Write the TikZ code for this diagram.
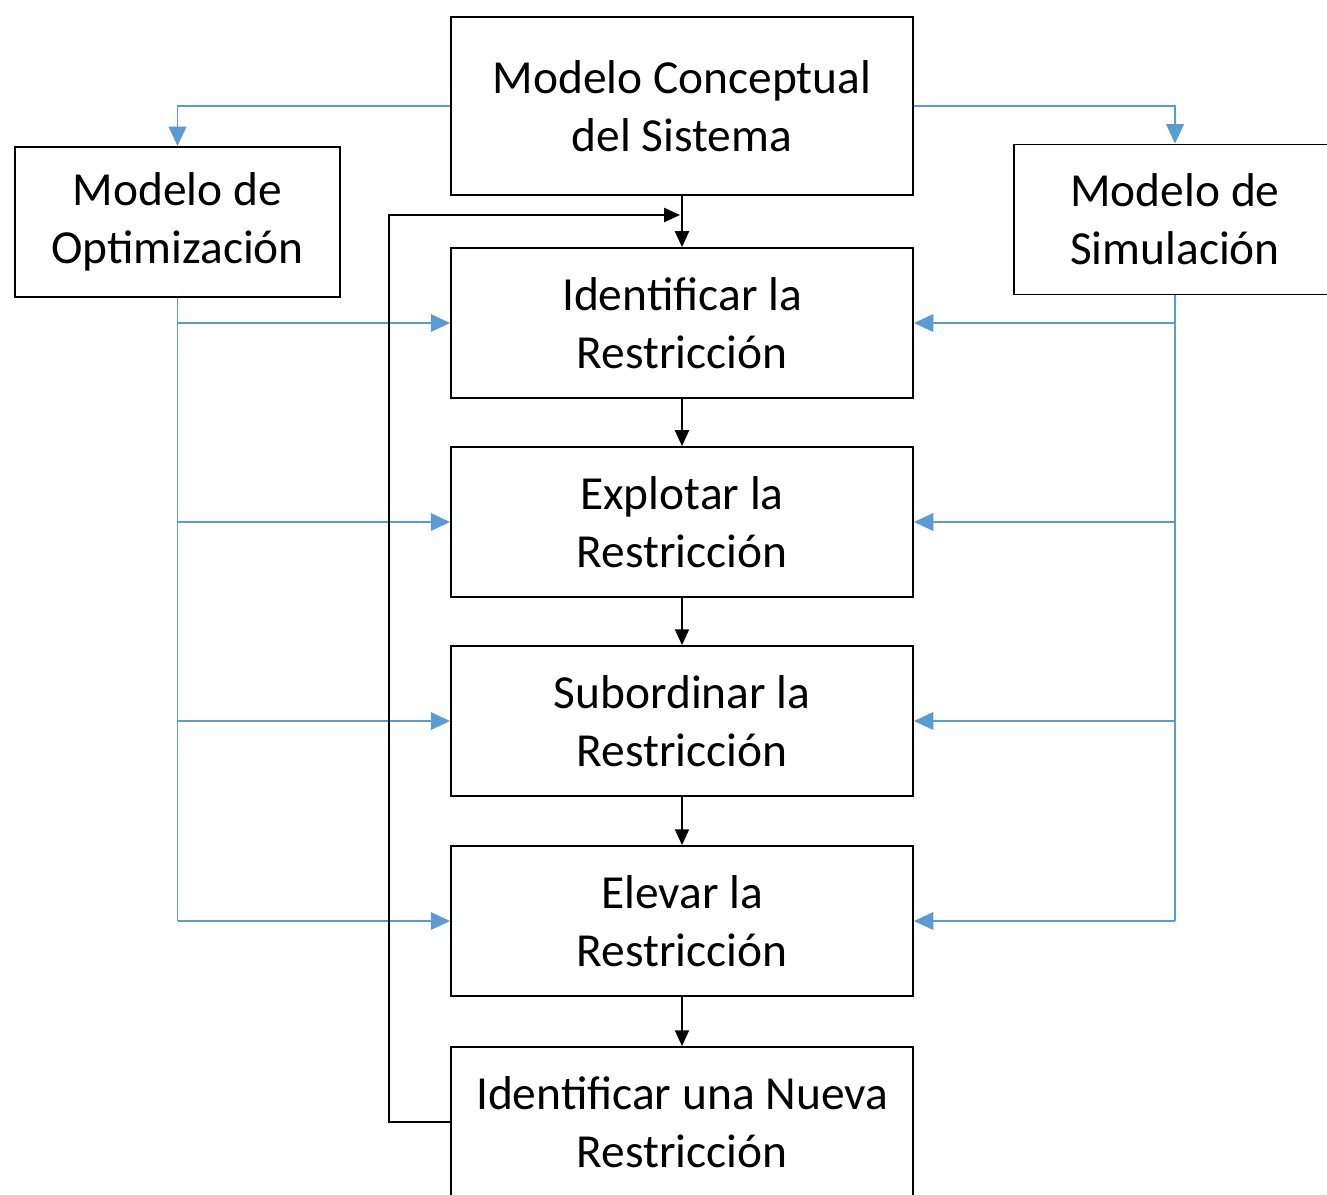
\documentclass[tikz,border=0pt]{standalone}
\usepackage{fontspec}
\setmainfont{Carlito}
\usetikzlibrary{arrows.meta}
\definecolor{modblue}{RGB}{91,155,213}

\begin{document}
\begin{tikzpicture}[x=0.02cm,y=-0.02cm,
    box/.style={draw, line width=1.1pt, minimum width=9.24cm, minimum height=3cm,
        align=center, inner sep=0pt, font=\fontsize{27}{33}\selectfont},
    flow/.style={-{Triangle[length=9pt,width=8pt]}, line width=1pt},
    feed/.style={-{Triangle[length=11pt,width=10pt]}, line width=1pt, draw=modblue}]
    \useasboundingbox (0,0) rectangle (1327,1194);

    % main chain
    \node[box, minimum height=3.56cm] (concept) at (682,106) {Modelo Conceptual\\del Sistema};
    \node[box] (ident) at (682,323) {Identificar la\\Restricción};
    \node[box] (explot) at (682,522) {Explotar la\\Restricción};
    \node[box] (subord) at (682,721) {Subordinar la\\Restricción};
    \node[box] (elevar) at (682,921) {Elevar la\\Restricción};
    \node[box] (nueva) at (682,1122) {Identificar una Nueva\\Restricción};

    % side models
    \node[box, minimum width=6.5cm] (optim) at (177.5,222) {Modelo de\\Optimización};
    \node[box, minimum width=6.44cm] (simul) at (1175,219.5) {Modelo de\\Simulación};

    \draw[feed] (concept.west) -| (optim.north);
    \draw[feed] (concept.east) -| (simul.north);

    \draw[feed, -] (optim.south) -- (optim.south |- elevar.west);
    \draw[feed, -] (simul.south) -- (simul.south |- elevar.east);
    \foreach \n in {ident, explot, subord, elevar} {
        \draw[feed] (optim.south |- \n.west) -- (\n.west);
        \draw[feed] (simul.south |- \n.east) -- (\n.east);
    }

    \foreach \a/\b in {concept/ident, ident/explot, explot/subord, subord/elevar, elevar/nueva}
        \draw[flow] (\a.south) -- (\b.north);

    % loop back
    \coordinate (loopin) at (680,215);
    \draw[flow] (nueva.west) -- ++(-61,0) |- (loopin);
\end{tikzpicture}
\end{document}
